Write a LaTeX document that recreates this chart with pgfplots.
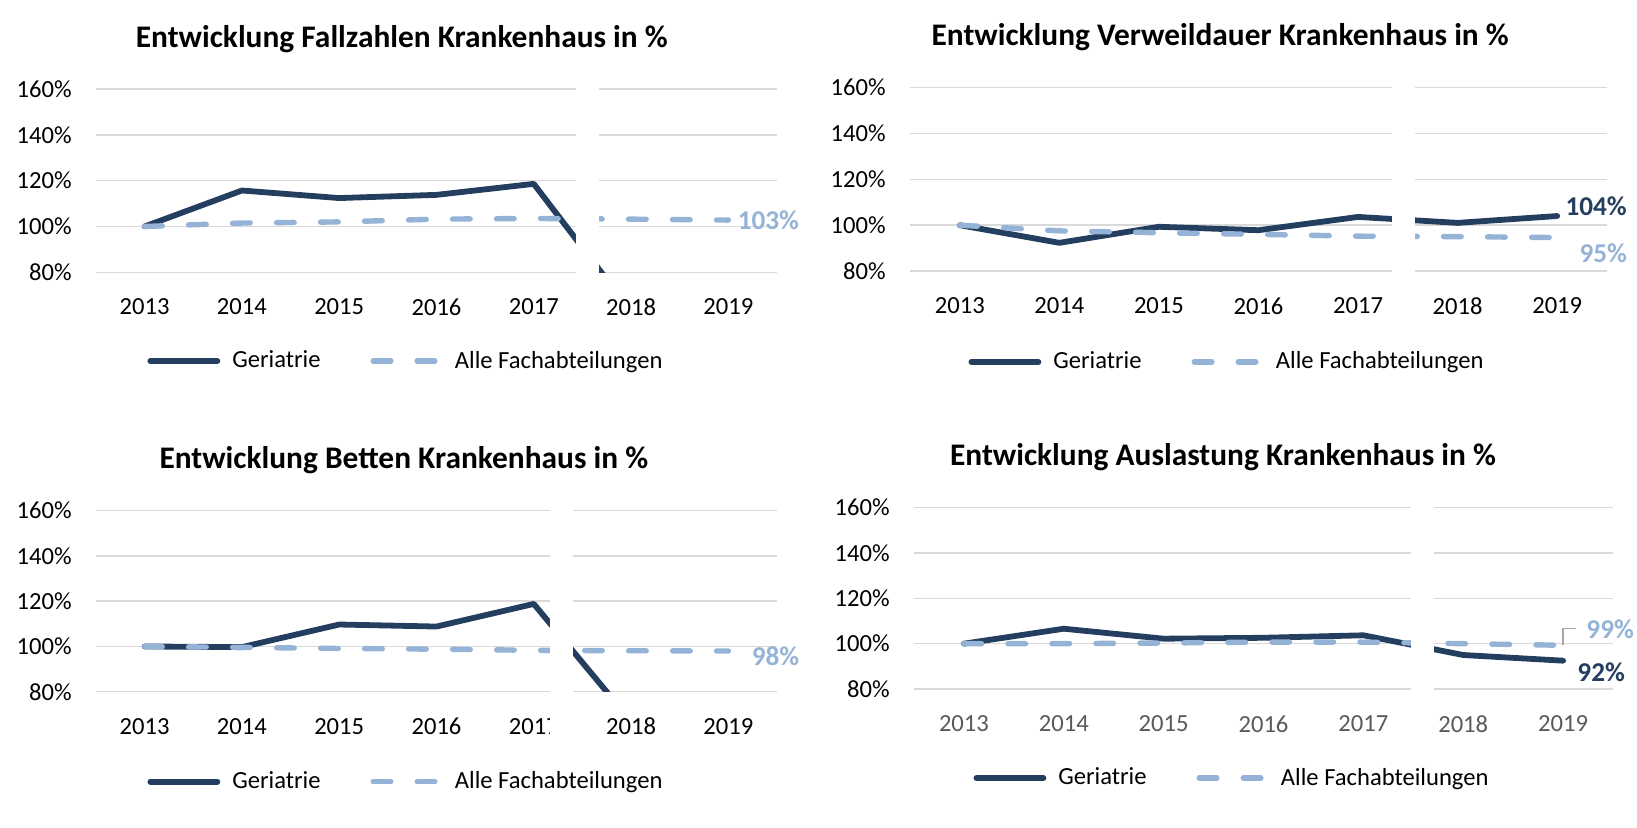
\documentclass[border=0pt]{standalone}
\usepackage{fontspec}
\setmainfont{Carlito}
\usepackage{pgfplots}
\pgfplotsset{compat=1.18}

\definecolor{geri}{RGB}{36,62,96}
\definecolor{alle}{RGB}{149,179,215}
\definecolor{gridc}{RGB}{217,217,217}
\definecolor{leader}{RGB}{166,166,166}

\newcommand{\tickfont}{\fontsize{12.3}{14}\selectfont}
\newcommand{\lblfont}{\bfseries\fontsize{13.6}{16}\selectfont}

\pgfplotsset{
  panel/.style={
    scale only axis,
    anchor=south west,
    xmin=-0.5, xmax=6.5, ymin=80, ymax=160,
    xtick={0,...,6}, xticklabels={2013,2014,2015,2016,2017,2018,2019},
    ytick={80,100,...,160}, yticklabels={80\%,100\%,120\%,140\%,160\%},
    axis line style={draw=none},
    tick style={draw=none},
    major tick length=0pt,
    ymajorgrids, grid style={gridc, line width=0.75pt},
    tick label style={font=\tickfont, inner sep=0pt},
    yticklabel style={anchor=east, xshift=-12pt},
    xticklabel style={anchor=north, yshift=-13pt},
    clip mode=individual,
    legend columns=-1,
    legend style={draw=none, fill=none, font=\tickfont, anchor=center,
      inner sep=0pt, nodes={inner sep=0pt},
      /tikz/every odd column/.append style={column sep=6pt},
      /tikz/every even column/.append style={column sep=25pt}},
    legend image code/.code={\draw[##1] (0pt,0pt) -- (33.5pt,0pt);},
    % the default title style already shifts up by 6pt
    title style={font=\bfseries\fontsize{15.7}{18}\selectfont, anchor=center,
      inner sep=0pt, yshift=-6pt},
  },
  geriline/.style={color=geri, line width=2.9pt, line join=round, line cap=round, mark=none},
  alleline/.style={color=alle, line width=2.7pt, line join=round, line cap=round,
    dash pattern=on 8.8pt off 13.2pt, mark=none},
}

\begin{document}
\begin{tikzpicture}
\useasboundingbox (0,0) rectangle (818.5pt,413.5pt);

% Fallzahlen
\begin{axis}[panel, at={(48pt,277.35pt)}, width=340.5pt, height=91.65pt,
  title={Entwicklung Fallzahlen Krankenhaus in \%}, title style={at={(0.449,1.273)}},
  legend style={at={(0.4537,-0.484)}}]
\addplot[geriline] coordinates {(0,100) (1,115.7) (2,112.4) (3,113.8) (4,118.6) (5,63) (6,60)};
\addlegendentry{Geriatrie}
\addplot[alleline] coordinates {(0,100) (1,101.5) (2,102) (3,103.2) (4,103.5) (5,103.2) (6,102.8)};
\addlegendentry{Alle Fachabteilungen}
\node[anchor=west, inner sep=0pt, text=alle, font=\lblfont, xshift=4.5pt] at (axis cs:6,102.8) {103\%};
\coordinate (g1a) at (axis cs:4.434,55);
\coordinate (g1b) at (axis cs:4.670,172);
\end{axis}
\fill[white] (g1a) rectangle (g1b);

% Verweildauer
\begin{axis}[panel, at={(455pt,278pt)}, width=348.5pt, height=91.65pt,
  title={Entwicklung Verweildauer Krankenhaus in \%}, title style={at={(0.445,1.277)}},
  legend style={at={(0.4534,-0.496)}}]
\addplot[geriline] coordinates {(0,100) (1,92.3) (2,99.3) (3,97.8) (4,103.6) (5,101) (6,104)};
\addlegendentry{Geriatrie}
\addplot[alleline] coordinates {(0,100) (1,97.5) (2,96.7) (3,96) (4,95.2) (5,95) (6,94.6)};
\addlegendentry{Alle Fachabteilungen}
\node[anchor=west, inner sep=0pt, text=geri, font=\lblfont, xshift=4pt, yshift=4.85pt] at (axis cs:6,104) {104\%};
\node[anchor=west, inner sep=0pt, text=alle, font=\lblfont, xshift=11pt, yshift=-8pt] at (axis cs:6,94.6) {95\%};
\coordinate (g2a) at (axis cs:4.341,55);
\coordinate (g2b) at (axis cs:4.572,172);
\end{axis}
\fill[white] (g2a) rectangle (g2b);

% Betten
\begin{axis}[panel, at={(48pt,67.65pt)}, width=340.5pt, height=90.5pt,
  title={Entwicklung Betten Krankenhaus in \%}, title style={at={(0.452,1.280)}},
  legend style={at={(0.4537,-0.497)}}]
\addplot[geriline] coordinates {(0,100) (1,99.7) (2,109.7) (3,108.8) (4,118.8) (5,67) (6,62)};
\addlegendentry{Geriatrie}
\addplot[alleline] coordinates {(0,100) (1,99.6) (2,99.1) (3,98.8) (4,98.3) (5,98.1) (6,98)};
\addlegendentry{Alle Fachabteilungen}
\node[anchor=west, inner sep=0pt, text=alle, font=\lblfont, xshift=11.5pt, yshift=-2.7pt] at (axis cs:6,98) {98\%};
\coordinate (g3a) at (axis cs:4.167,55);
\coordinate (g3b) at (axis cs:4.403,172);
\end{axis}
\fill[white] (g3a) rectangle (g3b);

% Auslastung
\begin{axis}[panel, at={(457pt,69pt)}, width=349.5pt, height=90.65pt,
  title={Entwicklung Auslastung Krankenhaus in \%}, title style={at={(0.442,1.280)}},
  xticklabel style={text=black!65},
  legend style={at={(0.4535,-0.491)}}]
\addplot[geriline] coordinates {(0,100) (1,106.6) (2,102.2) (3,102.6) (4,103.7) (5,95) (6,92.5)};
\addlegendentry{Geriatrie}
\addplot[alleline] coordinates {(0,100) (1,100) (2,100.3) (3,100.7) (4,100.7) (5,100) (6,99.3)};
\addlegendentry{Alle Fachabteilungen}
\draw[leader, line width=0.75pt] (axis cs:6,99.3) -- ++(0pt,8.5pt) -- ++(6.5pt,0pt);
\node[anchor=west, inner sep=0pt, text=alle, font=\lblfont, xshift=11.5pt, yshift=8pt] at (axis cs:6,99.3) {99\%};
\node[anchor=west, inner sep=0pt, text=geri, font=\lblfont, xshift=7pt, yshift=-6pt] at (axis cs:6,92.5) {92\%};
\coordinate (g4a) at (axis cs:4.477,55);
\coordinate (g4b) at (axis cs:4.707,172);
\end{axis}
\fill[white] (g4a) rectangle (g4b);
\end{tikzpicture}
\end{document}
